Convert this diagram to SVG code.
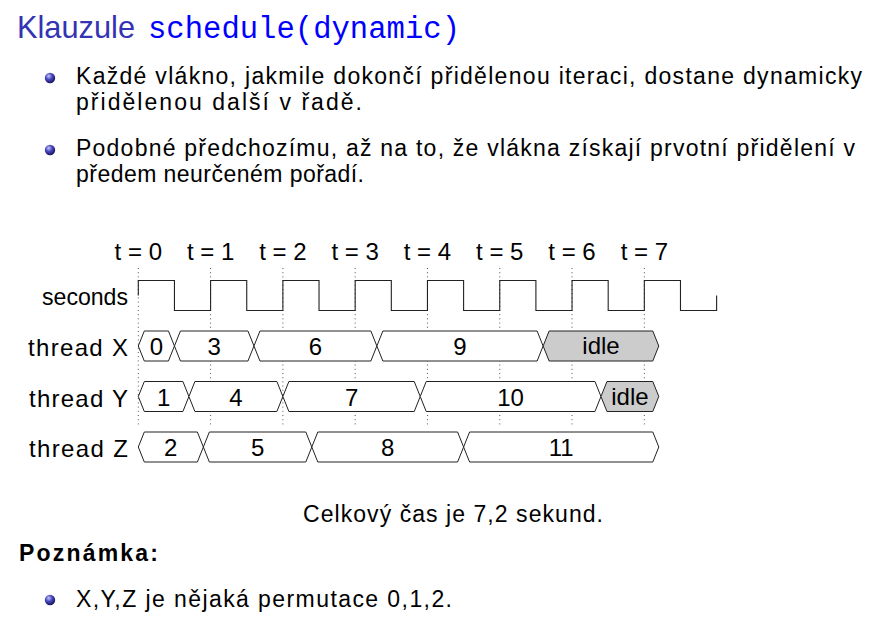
<svg xmlns="http://www.w3.org/2000/svg" width="887" height="621" viewBox="0 0 887 621">
<defs>
<radialGradient id="ball" cx="0.38" cy="0.32" r="0.7">
<stop offset="0" stop-color="#c8c8ff"/>
<stop offset="0.45" stop-color="#4a4ac0"/>
<stop offset="1" stop-color="#14145a"/>
</radialGradient>
<style>
text{font-family:"Liberation Sans",Arial,sans-serif;fill:#000}
.title{font-size:32px;fill:#3333b3}
.code{font-family:"Liberation Mono","Courier New",monospace;font-size:31px;fill:#0000ff}
.body{font-size:23px}
.lab{font-size:24px}
.mid{text-anchor:middle}
.end{text-anchor:end}
.bold{font-weight:bold}
.bus{fill:#fff;stroke:#222;stroke-width:1;stroke-linejoin:miter}
.idle{fill:#cccccc;stroke:#222;stroke-width:1}
.clk{fill:none;stroke:#222;stroke-width:1.1}
.dot{stroke:#555;stroke-width:1;stroke-dasharray:1 3.2}
</style>
</defs>
<rect width="887" height="621" fill="#fff"/>

<g id="title">
<text class="title" x="17" y="38" textLength="118" lengthAdjust="spacingAndGlyphs">Klauzule</text>
<text class="code" x="148" y="38" textLength="312" lengthAdjust="spacingAndGlyphs">schedule(dynamic)</text>
</g>

<g id="bullets">
<circle cx="50" cy="78" r="5.2" fill="url(#ball)"/>
<text class="body" x="76" y="84" textLength="786" lengthAdjust="spacing">Každé vlákno, jakmile dokončí přidělenou iteraci, dostane dynamicky</text>
<text class="body" x="76" y="109.5" textLength="286" lengthAdjust="spacing">přidělenou další v řadě.</text>
<circle cx="50" cy="150" r="5.2" fill="url(#ball)"/>
<text class="body" x="76" y="156" textLength="779" lengthAdjust="spacing">Podobné předchozímu, až na to, že vlákna získají prvotní přidělení v</text>
<text class="body" x="76" y="181.5" textLength="288" lengthAdjust="spacing">předem neurčeném pořadí.</text>
</g>

<g id="timing">
<g id="gridlines">
<line class="dot" x1="138.3" y1="268" x2="138.3" y2="425"/>
<line class="dot" x1="210.59" y1="268" x2="210.59" y2="425"/>
<line class="dot" x1="282.88" y1="268" x2="282.88" y2="425"/>
<line class="dot" x1="355.17" y1="268" x2="355.17" y2="425"/>
<line class="dot" x1="427.46" y1="268" x2="427.46" y2="425"/>
<line class="dot" x1="499.75" y1="268" x2="499.75" y2="425"/>
<line class="dot" x1="572.04" y1="268" x2="572.04" y2="425"/>
<line class="dot" x1="644.33" y1="268" x2="644.33" y2="425"/>
</g>
<g id="time-labels">
<text class="lab mid" x="138.3" y="260">t = 0</text>
<text class="lab mid" x="210.59" y="260">t = 1</text>
<text class="lab mid" x="282.88" y="260">t = 2</text>
<text class="lab mid" x="355.17" y="260">t = 3</text>
<text class="lab mid" x="427.46" y="260">t = 4</text>
<text class="lab mid" x="499.75" y="260">t = 5</text>
<text class="lab mid" x="572.04" y="260">t = 6</text>
<text class="lab mid" x="644.33" y="260">t = 7</text>
</g>
<g id="seconds">
<text class="lab" x="42" y="305" textLength="86" lengthAdjust="spacingAndGlyphs">seconds</text>
<path class="clk" d="M138.3,295.5 V280.5 H174.45 V310.5 H210.59 V280.5 H246.74 V310.5 H282.88 V280.5 H319.03 V310.5 H355.17 V280.5 H391.32 V310.5 H427.46 V280.5 H463.6 V310.5 H499.75 V280.5 H535.9 V310.5 H572.04 V280.5 H608.19 V310.5 H644.33 V280.5 H680.48 V310.5 H716.62 V295.5"/>
</g>
<g id="thread-x">
<text class="lab" x="28" y="356" textLength="100" lengthAdjust="spacing">thread X</text>
<polygon class="bus" points="138.3,346 144.3,331 168.45,331 174.45,346 168.45,361 144.3,361"/>
<polygon class="bus" points="174.45,346 180.45,331 247.96,331 253.96,346 247.96,361 180.45,361"/>
<polygon class="bus" points="253.96,346 259.96,331 370.86,331 376.86,346 370.86,361 259.96,361"/>
<polygon class="bus" points="376.86,346 382.86,331 537.12,331 543.12,346 537.12,361 382.86,361"/>
<polygon class="idle" points="543.12,346 549.12,331 652.79,331 658.79,346 652.79,361 549.12,361"/>
<text class="lab mid" x="156.4" y="355">0</text>
<text class="lab mid" x="214.2" y="355">3</text>
<text class="lab mid" x="315.4" y="355">6</text>
<text class="lab mid" x="460" y="355">9</text>
<text class="lab mid" x="601" y="354">idle</text>
</g>
<g id="thread-y">
<text class="lab" x="29" y="406.5" textLength="99" lengthAdjust="spacing">thread Y</text>
<polygon class="bus" points="138.3,396.5 144.3,381.5 182.9,381.5 188.9,396.5 182.9,411.5 144.3,411.5"/>
<polygon class="bus" points="188.9,396.5 194.9,381.5 276.88,381.5 282.88,396.5 276.88,411.5 194.9,411.5"/>
<polygon class="bus" points="282.88,396.5 288.88,381.5 414.23,381.5 420.23,396.5 414.23,411.5 288.88,411.5"/>
<polygon class="bus" points="420.23,396.5 426.23,381.5 594.96,381.5 600.96,396.5 594.96,411.5 426.23,411.5"/>
<polygon class="idle" points="600.96,396.5 606.96,381.5 652.79,381.5 658.79,396.5 652.79,411.5 606.96,411.5"/>
<text class="lab mid" x="163.6" y="405.5">1</text>
<text class="lab mid" x="235.9" y="405.5">4</text>
<text class="lab mid" x="351.6" y="405.5">7</text>
<text class="lab mid" x="510.6" y="405.5">10</text>
<text class="lab mid" x="629.9" y="404.5">idle</text>
</g>
<g id="thread-z">
<text class="lab" x="29" y="457" textLength="99" lengthAdjust="spacing">thread Z</text>
<polygon class="bus" points="138.3,447 144.3,432 197.36,432 203.36,447 197.36,462 144.3,462"/>
<polygon class="bus" points="203.36,447 209.36,432 305.8,432 311.8,447 305.8,462 209.36,462"/>
<polygon class="bus" points="311.8,447 317.8,432 457.6,432 463.6,447 457.6,462 317.8,462"/>
<polygon class="bus" points="463.6,447 469.6,432 652.79,432 658.79,447 652.79,462 469.6,462"/>
<text class="lab mid" x="170.8" y="456">2</text>
<text class="lab mid" x="257.6" y="456">5</text>
<text class="lab mid" x="387.7" y="456">8</text>
<text class="lab mid" x="561.2" y="456">11</text>
</g>
</g>

<g id="caption">
<text class="body" x="303" y="522" textLength="300" lengthAdjust="spacing">Celkový čas je 7,2 sekund.</text>
</g>

<g id="note">
<text class="body bold" x="19" y="561" textLength="139" lengthAdjust="spacing">Poznámka:</text>
<circle cx="50" cy="600" r="5.2" fill="url(#ball)"/>
<text class="body" x="76" y="607" textLength="376" lengthAdjust="spacing">X,Y,Z je nějaká permutace 0,1,2.</text>
</g>
</svg>
